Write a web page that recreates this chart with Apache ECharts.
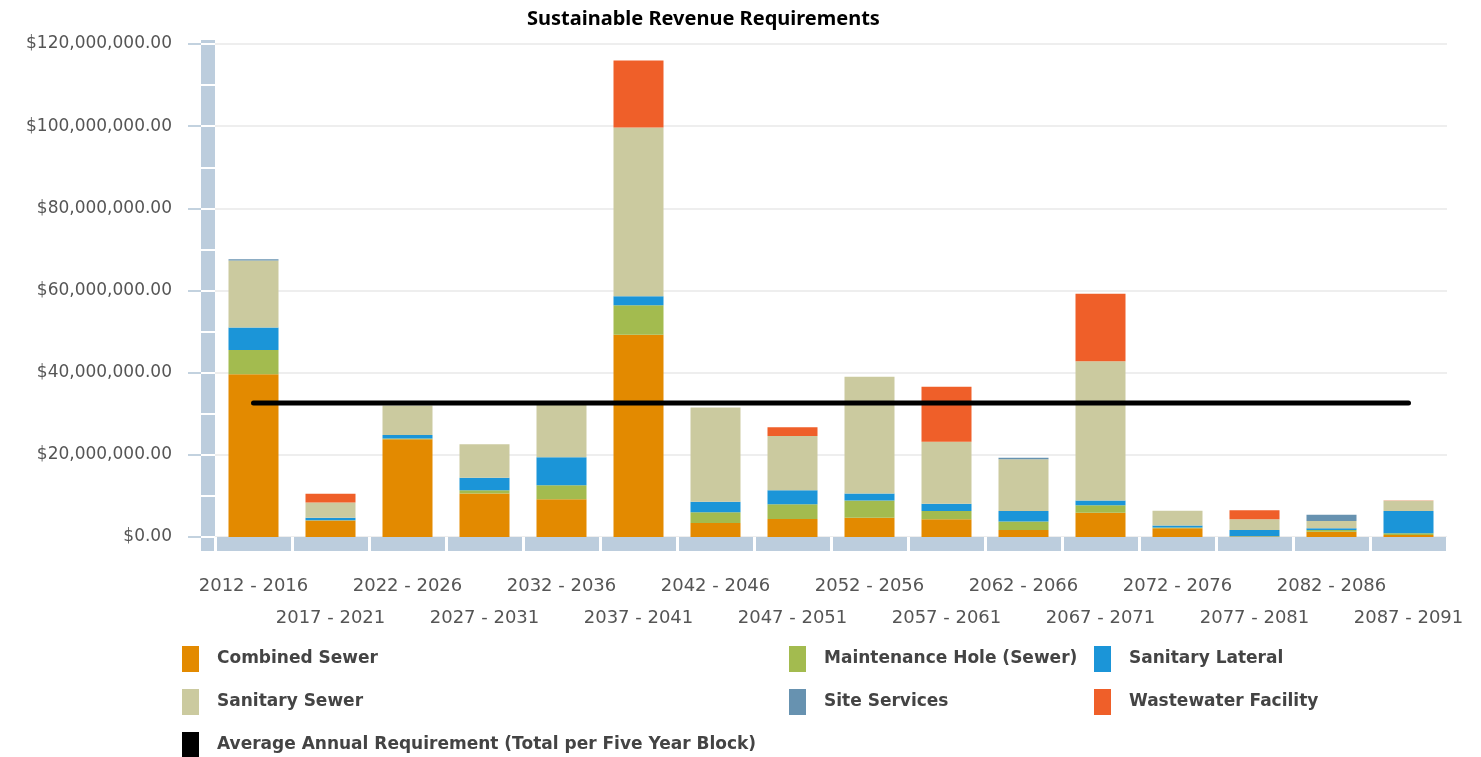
<!DOCTYPE html>
<html>
<head>
<meta charset="utf-8">
<title>Sustainable Revenue Requirements</title>
<script src="https://cdn.jsdelivr.net/npm/echarts@6/dist/echarts.min.js"></script>
<style>
html, body { margin: 0; padding: 0; background: #fff; }
#chart { width: 1481px; height: 757px; }
</style>
</head>
<body>
<div id="chart"></div>
<script>
// five year blocks
var blocks = ['2012 - 2016', '2017 - 2021', '2022 - 2026', '2027 - 2031', '2032 - 2036', '2037 - 2041',
	'2042 - 2046', '2047 - 2051', '2052 - 2056', '2057 - 2061', '2062 - 2066', '2067 - 2071',
	'2072 - 2076', '2077 - 2081', '2082 - 2086', '2087 - 2091'];

// values in millions of dollars
var combinedSewer   = [39.6, 4.0, 23.8, 10.6, 9.2, 49.2, 3.4, 4.4, 4.7, 4.3, 1.7, 5.9, 2.1, 0.1, 1.3, 0.5];
var maintenanceHole = [5.9, 0.1, 0.2, 0.8, 3.4, 7.2, 2.6, 3.6, 4.2, 2.0, 2.1, 1.8, 0.2, 0.1, 0.4, 0.4];
var sanitaryLateral = [5.5, 0.6, 0.8, 3.0, 6.8, 2.2, 2.6, 3.4, 1.7, 1.8, 2.5, 1.2, 0.5, 1.5, 0.4, 5.4];
var sanitarySewer   = [16.3, 3.7, 7.2, 8.2, 12.7, 41.1, 22.9, 13.2, 28.4, 15.1, 12.6, 33.9, 3.6, 2.6, 1.8, 2.5];
var siteServices    = [0.3, 0, 0, 0, 0, 0, 0, 0, 0, 0, 0.4, 0, 0, 0, 1.5, 0];
var wastewater      = [0, 2.1, 0, 0, 0, 16.3, 0, 2.1, 0, 13.4, 0, 16.4, 0, 2.2, 0, 0.1];
var averageAnnual   = 32.6;

var yTicks = { min: 0, max: 120, step: 20 };
var bandSegments = [0, 10, 20, 30, 40, 50, 60, 70, 80, 90, 100, 110, 120];

var stackNames = ['Combined Sewer', 'Maintenance Hole (Sewer)', 'Sanitary Lateral', 'Sanitary Sewer', 'Site Services', 'Wastewater Facility'];
var stackData = [combinedSewer, maintenanceHole, sanitaryLateral, sanitarySewer, siteServices, wastewater];
var stackColors = ['#e38a00', '#a3bb4f', '#1b95d8', '#cbca9f', '#6792b0', '#ef5f29'];
var avgName = 'Average Annual Requirement (Total per Five Year Block)';

var bandColor = '#bccddd';
var M = 1000000;

// plot area and the grey frame band around it
var plotTop = 44, plotBottom = 537, bandTop = 40, bandBottom = 551, H = 757;
var pxPerUnit = (plotBottom - plotTop) / (yTicks.max - yTicks.min);
var bandMin = -(bandBottom - plotBottom) / pxPerUnit;
var bandMax = (plotBottom - bandTop) / pxPerUnit;

function money(v){
	var s = String(Math.round(v)).replace(/\B(?=(\d{3})+(?!\d))/g, ',');
	return '$' + s + '.00';
}

var series = [];
for (var i = 0; i < stackNames.length; i++) {
	series.push({
		name: stackNames[i],
		type: 'bar',
		stack: 'total',
		barWidth: 50,
		itemStyle: { color: stackColors[i] },
		data: stackData[i].map(function(v){ return v * M; })
	});
}
series.push({
	name: avgName,
	type: 'line',
	z: 5,
	symbol: 'none',
	itemStyle: { color: '#000' },
	lineStyle: { color: '#000', width: 5, cap: 'round' },
	data: blocks.map(function(){ return averageAnnual * M; })
});

var legendText = { fontFamily: 'DejaVu Sans', fontWeight: 'bold', fontSize: 17, color: '#444', padding: [0, 0, 0, 13] };
function legendCol(left, names){
	return {
		orient: 'vertical',
		left: left,
		top: 646,
		height: 130,
		padding: 0,
		itemWidth: 17,
		itemHeight: 26,
		itemGap: 17,
		icon: 'rect',
		selectedMode: false,
		textStyle: legendText,
		data: names
	};
}

var chart = echarts.init(document.getElementById('chart'));
chart.setOption({
	backgroundColor: '#fff',
	animation: false,
	title: {
		text: 'Sustainable Revenue Requirements',
		left: 522,
		top: 4,
		textStyle: { fontFamily: 'Noto Sans', fontWeight: 'bold', fontSize: 20, color: '#000' }
	},
	legend: [
		legendCol(182, ['Combined Sewer', 'Sanitary Sewer', avgName]),
		legendCol(789, ['Maintenance Hole (Sewer)', 'Site Services']),
		legendCol(1094, ['Sanitary Lateral', 'Wastewater Facility'])
	],
	grid: [
		{ left: 215, right: 34, top: plotTop, bottom: H - plotBottom },
		{ left: 215, right: 34, top: bandTop, bottom: H - bandBottom }
	],
	xAxis: [
		{
			type: 'category',
			gridIndex: 0,
			data: blocks,
			z: 2,
			axisLine: { show: false, onZero: false },
			axisTick: { show: true, interval: 0, length: 14, lineStyle: { color: '#fff', width: 3 } },
			axisLabel: {
				interval: 0,
				margin: 33,
				fontFamily: 'DejaVu Sans',
				fontSize: 18,
				lineHeight: 32,
				color: '#555',
				formatter: function(v, idx){ return idx % 2 ? '\n' + v : v; }
			}
		},
		{
			type: 'category',
			gridIndex: 0,
			data: blocks,
			position: 'bottom',
			offset: 7,
			z: 0,
			axisLine: { show: true, onZero: false, lineStyle: { color: bandColor, width: 14, cap: 'butt' } },
			axisTick: { show: false },
			axisLabel: { show: false }
		},
		{ type: 'value', gridIndex: 1, show: false, min: 0, max: 1 }
	],
	yAxis: [
		{
			type: 'value',
			gridIndex: 0,
			min: yTicks.min * M,
			max: yTicks.max * M,
			interval: yTicks.step * M,
			position: 'left',
			offset: 14,
			axisLine: { show: false, onZero: false },
			axisTick: { show: true, length: 13, lineStyle: { color: '#c3d2df', width: 2 } },
			axisLabel: { margin: 29, fontFamily: 'DejaVu Sans', fontSize: 17, color: '#555', formatter: money },
			splitLine: { show: true, lineStyle: { color: '#e9e9e9', width: 1.5 } }
		},
		{
			type: 'value',
			gridIndex: 1,
			position: 'left',
			offset: 7,
			min: 0,
			max: 1,
			z: 0,
			axisLine: { show: true, onZero: false, lineStyle: { color: bandColor, width: 14, cap: 'butt' } },
			axisTick: { show: false },
			axisLabel: { show: false },
			splitLine: { show: false }
		},
		{
			type: 'value',
			gridIndex: 1,
			position: 'left',
			offset: 0,
			min: bandMin * M,
			max: bandMax * M,
			z: 2,
			axisLine: { show: false, onZero: false },
			axisTick: {
				show: true,
				length: 14,
				customValues: bandSegments.map(function(v){ return v * M; }),
				lineStyle: { color: '#fff', width: 2 }
			},
			axisLabel: { show: false },
			splitLine: { show: false }
		}
	],
	series: series
});
window.onresize = function(){ chart.resize(); };
</script>
</body>
</html>
